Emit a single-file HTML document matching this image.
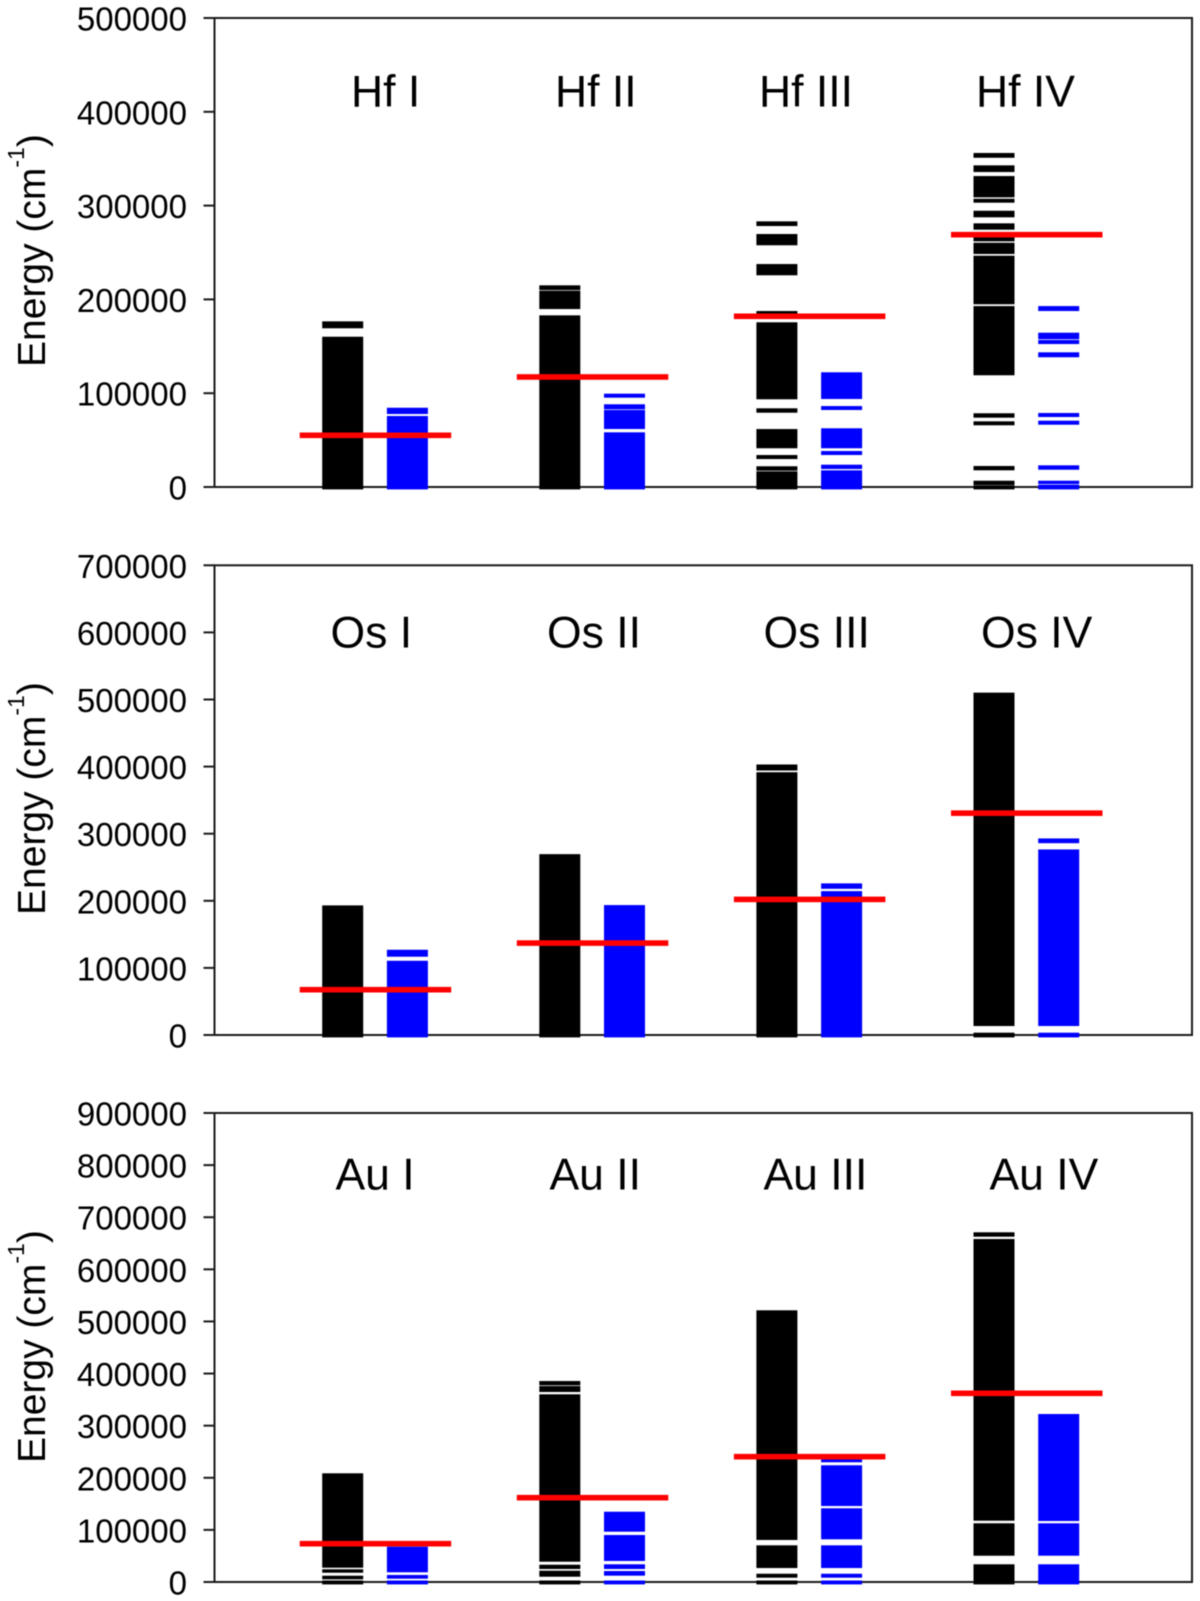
<!DOCTYPE html>
<html lang="en">
<head>
<meta charset="utf-8">
<title>Energy levels of Hf, Os and Au ions</title>
<style>
  html, body { margin: 0; padding: 0; background: #fff; }
  #chart { display: block; width: 1200px; height: 1601px; filter: blur(0.5px); }
  text { font-family: "Liberation Sans", Arial, sans-serif; fill: #000; }
  .tick-label { font-size: 33px; text-anchor: end; }
  .ion-title { font-size: 44.5px; }
  .axis-title { font-size: 39px; }
</style>
</head>
<body>
<svg id="chart" xmlns="http://www.w3.org/2000/svg" width="1200" height="1601" viewBox="0 0 1200 1601">
  <g id="panel-hf">
    <text class="axis-title" transform="rotate(-90 45 367)" x="45" y="367">Energy (cm<tspan font-size="23" dy="-21">-1</tspan><tspan dy="21">)</tspan></text>
    <text class="ion-title" x="351" y="106.5">Hf I</text>
    <text class="ion-title" x="555" y="106.5">Hf II</text>
    <text class="ion-title" x="759" y="106.5">Hf III</text>
    <text class="ion-title" x="976" y="106.5">Hf IV</text>
  </g>
  <g id="panel-os">
    <text class="axis-title" transform="rotate(-90 45 915)" x="45" y="915">Energy (cm<tspan font-size="23" dy="-21">-1</tspan><tspan dy="21">)</tspan></text>
    <text class="ion-title" x="330.5" y="647.5">Os I</text>
    <text class="ion-title" x="547" y="647.5">Os II</text>
    <text class="ion-title" x="763.5" y="647.5">Os III</text>
    <text class="ion-title" x="981" y="647.5">Os IV</text>
  </g>
  <g id="panel-au">
    <text class="axis-title" transform="rotate(-90 45 1463)" x="45" y="1463">Energy (cm<tspan font-size="23" dy="-21">-1</tspan><tspan dy="21">)</tspan></text>
    <text class="ion-title" x="335.5" y="1189.5">Au I</text>
    <text class="ion-title" x="549.5" y="1189.5">Au II</text>
    <text class="ion-title" x="763.5" y="1189.5">Au III</text>
    <text class="ion-title" x="989.5" y="1189.5">Au IV</text>
  </g>
</svg>
<script>
// ---- Data: energies in cm^-1, each band is [low, high] ----
const ionStages = ['I', 'II', 'III', 'IV'];

const hfTicks = [0, 100000, 200000, 300000, 400000, 500000];
const hfLimits = [55100, 117300, 182000, 269000];
const hfBlackBands = [
  [[0, 158600], [170800, 175000]],
  [[0, 181400], [191300, 207700], [211600, 213400]],
  [[0, 15100], [19000, 20500], [31400, 32500], [42900, 60200], [80800, 82300], [95100, 174000], [181200, 186000], [227300, 236100], [259300, 268100], [279800, 281600]],
  [[0, 200], [3700, 5100], [19400, 20800], [67400, 68400], [75500, 77000], [120700, 191300], [196400, 245000], [250000, 258800], [263500, 270200], [275900, 279500], [289100, 292900], [304700, 305700], [310400, 329900], [337400, 341300], [352600, 354500]]
];
const hfBlueBands = [
  [[0, 74100], [79400, 82900]],
  [[0, 56700], [63400, 80500], [84400, 86600], [96800, 97900]],
  [[0, 16200], [20800, 22200], [35700, 36800], [42900, 61000], [83700, 84700], [95400, 120700]],
  [[0, 900], [4800, 5100], [20000, 21500], [68000, 69100], [76200, 77300], [139900, 142000], [154000, 155100], [159100, 162900], [189200, 191300]]
];

const osTicks = [0, 100000, 200000, 300000, 400000, 500000, 600000, 700000];
const osLimits = [67500, 137000, 202100, 330600];
const osBlackBands = [
  [[0, 190900]],
  [[0, 267300]],
  [[0, 389400], [396400, 400900]],
  [[0, 1200], [15600, 508000]]
];
const osBlueBands = [
  [[0, 108400], [118900, 124800]],
  [[0, 191400]],
  [[0, 212200], [220100, 223700]],
  [[0, 1200], [15600, 274300], [288100, 290700]]
];

const auTicks = [0, 100000, 200000, 300000, 400000, 500000, 600000, 700000, 800000, 900000];
const auLimits = [73500, 161800, 240500, 362100];
const auBlackBands = [
  [[0, 0], [8000, 9200], [20700, 21500], [30300, 205700]],
  [[0, 0], [13000, 18800], [27800, 30300], [41800, 357300], [367500, 373200], [380300, 382800]],
  [[0, 0], [11100, 13000], [29700, 67500], [83500, 518500]],
  [[0, 31100], [53300, 109800], [120500, 655300], [665500, 668200]]
];
const auBlueBands = [
  [[0, 0], [9200, 10600], [21500, 64900]],
  [[0, 0], [15000, 18200], [27800, 31100], [43200, 87300], [99400, 132000]],
  [[0, 0], [11100, 13000], [29700, 67500], [84800, 138600], [148700, 221100], [232600, 240500]],
  [[0, 31100], [53300, 109800], [119900, 319500]]
];

// ---- Shared plot geometry ----
const SVG_NS = 'http://www.w3.org/2000/svg';
const PLOT_LEFT = 214.5;
const PLOT_RIGHT = 1192;
const BAND_PAD = 1.5;
const BASE_PAD = 2.4;

function groupX(i) { return 322.2 + 217.1 * i; }
function blackX(i) { return groupX(i); }
function blueX(i) { return groupX(i) + 64.7; }
function limitX(i) { return groupX(i) - 22.5; }

function makeEl(tag, parent) {
  const el = document.createElementNS(SVG_NS, tag);
  parent.appendChild(el);
  return el;
}

function setRect(el, x, y, w, h, fill) {
  el.setAttribute('x', x);
  el.setAttribute('y', y);
  el.setAttribute('width', w);
  el.setAttribute('height', h);
  el.setAttribute('fill', fill);
}

function bandBottom(yScale, low) {
  return yScale(low) + (low === 0 ? BASE_PAD : BAND_PAD);
}

function drawPanel(groupId, prefix, yTop, yZero, ticks, blackBands, blueBands, limits) {
  const group = document.getElementById(groupId);
  const yMax = ticks[ticks.length - 1];
  const yScale = function (v) { return yZero - (v / yMax) * (yZero - yTop); };

  // frame
  const frame = makeEl('rect', group);
  frame.setAttribute('x', PLOT_LEFT);
  frame.setAttribute('y', yTop);
  frame.setAttribute('width', PLOT_RIGHT - PLOT_LEFT);
  frame.setAttribute('height', yZero - yTop);
  frame.setAttribute('fill', 'none');
  frame.setAttribute('stroke', '#1a1a1a');
  frame.setAttribute('stroke-width', '2');
  
  

  // ticks and tick labels
  ticks.forEach(function (t) {
    const line = makeEl('line', group);
    line.setAttribute('x1', 203.5);
    line.setAttribute('x2', PLOT_LEFT);
    line.setAttribute('y1', yScale(t));
    line.setAttribute('y2', yScale(t));
    line.setAttribute('stroke', '#1a1a1a');
    line.setAttribute('stroke-width', '2');
    
    

    const label = makeEl('text', group);
    label.setAttribute('class', 'tick-label');
    label.setAttribute('x', 187);
    label.setAttribute('y', yScale(t) + 12.5);
    label.textContent = String(t);
    
    
  });

  // level bands
  ionStages.forEach(function (stage, i) {
    blackBands[i].forEach(function (band) {
      const r = makeEl('rect', group);
      const top = yScale(band[1]) - BAND_PAD;
      const bottom = bandBottom(yScale, band[0]);
      setRect(r, blackX(i), top, 41, bottom - top, '#000');
      
      
    });
    blueBands[i].forEach(function (band) {
      const r = makeEl('rect', group);
      const top = yScale(band[1]) - BAND_PAD;
      const bottom = bandBottom(yScale, band[0]);
      setRect(r, blueX(i), top, 41, bottom - top, '#00f');
      
      
    });
  });

  // red limit lines, on top of the bands
  ionStages.forEach(function (stage, i) {
    const r = makeEl('rect', group);
    setRect(r, limitX(i), yScale(limits[i]) - 2.8, 151.5, 5.6, '#f00');
    
    
  });
}

drawPanel('panel-hf', 'hf', 18, 487, hfTicks, hfBlackBands, hfBlueBands, hfLimits);
drawPanel('panel-os', 'os', 565.3, 1035, osTicks, osBlackBands, osBlueBands, osLimits);
drawPanel('panel-au', 'au', 1113, 1582, auTicks, auBlackBands, auBlueBands, auLimits);
</script>
</body>
</html>
